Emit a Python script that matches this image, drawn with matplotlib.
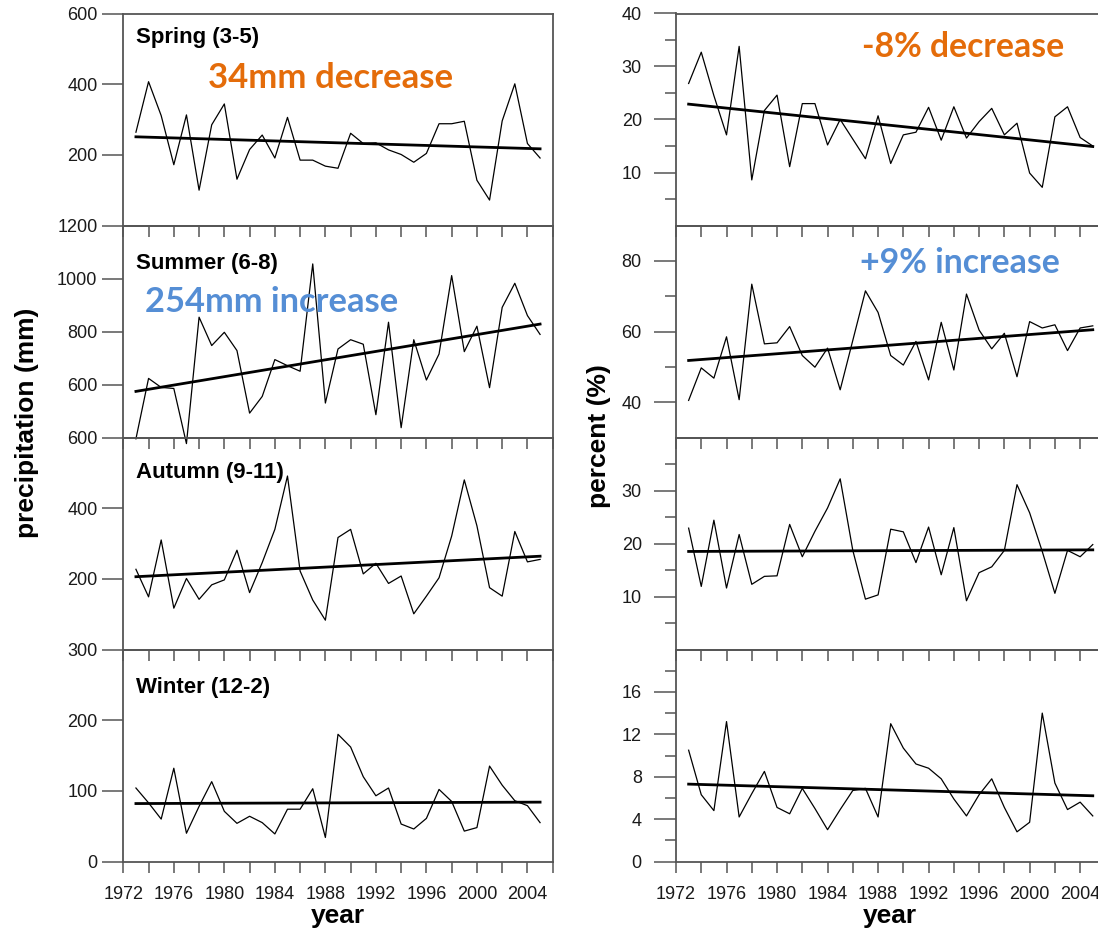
import matplotlib
matplotlib.use("Agg")
import matplotlib.pyplot as plt

plt.rcParams["font.family"] = ["Liberation Sans", "DejaVu Sans"]

# ---- data ----
years = list(range(1973, 2006))

spring_mm = [264, 407, 311, 172, 313, 100, 285, 344, 131, 215, 256, 191, 306, 185, 185, 168, 162,
             261, 232, 234, 214, 201, 179, 204, 288, 288, 295, 128, 72, 296, 401, 232, 191]
summer_mm = [395, 623, 589, 585, 377, 854, 747, 797, 728, 492, 555, 694, 671, 650, 1055, 530, 734,
             769, 752, 486, 835, 437, 769, 617, 715, 1011, 724, 820, 588, 891, 982, 860, 789]
autumn_mm = [227, 149, 310, 117, 201, 142, 183, 197, 281, 161, 246, 340, 491, 222, 140, 83, 317,
             340, 214, 244, 187, 208, 101, 151, 203, 321, 480, 350, 175, 151, 334, 248, 255]
winter_mm = [104, 83, 60, 132, 40, 78, 113, 71, 54, 64, 55, 39, 74, 74, 103, 34, 180,
             162, 120, 93, 104, 53, 46, 61, 102, 85, 43, 48, 135, 108, 86, 79, 55]

spring_pct = [26.8, 32.7, 24.5, 17.1, 33.8, 8.6, 21.7, 24.6, 11.1, 23.0, 23.0, 15.2, 20.0, 16.3, 12.6, 20.7, 11.7,
              17.1, 17.6, 22.3, 16.1, 22.4, 16.5, 19.6, 22.1, 17.1, 19.3, 9.9, 7.2, 20.5, 22.4, 16.6, 15.0]
summer_pct = [40.5, 49.7, 46.8, 58.5, 40.7, 73.4, 56.5, 56.8, 61.4, 53.2, 49.9, 55.3, 43.5, 57.5, 71.5, 65.4, 53.2,
              50.5, 57.2, 46.3, 62.6, 49.1, 70.6, 60.4, 55.1, 59.5, 47.2, 62.8, 61.0, 61.9, 54.6, 61.0, 61.6]
autumn_pct = [22.9, 11.9, 24.4, 11.6, 21.7, 12.3, 13.8, 13.9, 23.6, 17.5, 22.3, 26.7, 32.2, 18.7, 9.5, 10.3, 22.7,
              22.2, 16.4, 23.1, 14.1, 23.0, 9.2, 14.5, 15.6, 18.7, 31.1, 25.8, 18.5, 10.6, 18.7, 17.5, 19.8]
winter_pct = [10.5, 6.3, 4.8, 13.2, 4.2, 6.4, 8.5, 5.1, 4.5, 6.9, 5.0, 3.0, 4.9, 6.7, 6.9, 4.2, 13.0,
              10.7, 9.2, 8.8, 7.8, 5.9, 4.3, 6.3, 7.8, 5.1, 2.8, 3.7, 14.0, 7.4, 4.9, 5.6, 4.3]

# linear trend end points (1973, 2005)
trend_years = [1973, 2005]
spring_mm_trend = [251, 217]
summer_mm_trend = [574, 828]
autumn_mm_trend = [206, 264]
winter_mm_trend = [82, 84]
spring_pct_trend = [22.9, 14.9]
summer_pct_trend = [51.8, 60.5]
autumn_pct_trend = [18.5, 18.8]
winter_pct_trend = [7.3, 6.2]

season_titles = ["Spring (3-5)", "Summer (6-8)", "Autumn (9-11)", "Winter (12-2)"]

# ---- layout (pixels of the 1098x932 reference) ----
W, H = 1098, 932
fig = plt.figure(figsize=(W / 100, H / 100), dpi=100)

panel_tops = [13.5, 225.5, 437.5, 649.5]
panel_h = 212
ax_w = 429.4
left_x0, right_x0 = 123.3, 676.0

spine_c = "#555555"
text_c = "#1a1a1a"
orange = "#E46C0A"
blue = "#558ED5"
tick_fs = 13


def make_axes(x0, top):
    ax = fig.add_axes([x0 / W, 1 - (top + panel_h) / H, ax_w / W, panel_h / H])
    ax.patch.set_visible(False)
    for s in ax.spines.values():
        s.set_color(spine_c)
        s.set_linewidth(1.3)
    ax.set_xlim(1972, 2006)
    ax.set_xticks(range(1972, 2007, 2))
    ax.tick_params(axis="x", direction="out", length=8, width=1.1, color=spine_c,
                   labelsize=tick_fs, labelcolor=text_c, pad=9.5)
    return ax


def draw_series(ax, values, trend):
    ax.plot(years, values, color="black", lw=0.9, clip_on=False, zorder=3)
    ax.plot(trend_years, trend, color="black", lw=2.0, clip_on=False, zorder=4)


# left column: precipitation
left_series = [spring_mm, summer_mm, autumn_mm, winter_mm]
left_trends = [spring_mm_trend, summer_mm_trend, autumn_mm_trend, winter_mm_trend]
left_ylims = [(0, 600), (400, 1200), (0, 600), (0, 300)]
left_ticks = [[200, 400, 600], [600, 800, 1000, 1200], [200, 400, 600], [0, 100, 200, 300]]
title_baselines = [0.862, 0.793, 0.808, 0.796]

# right column: percent
right_series = [spring_pct, summer_pct, autumn_pct, winter_pct]
right_trends = [spring_pct_trend, summer_pct_trend, autumn_pct_trend, winter_pct_trend]
right_ylims = [(0, 40), (30, 90), (0, 40), (0, 20)]
right_major = [[10, 20, 30, 40], [40, 60, 80], [10, 20, 30], [0, 4, 8, 12, 16]]
right_minor = [[5, 15, 25, 35], [50, 70], [5, 15, 25, 35], [2, 6, 10, 14, 18]]

for i in range(4):
    bottom = i == 3
    xlabels = [str(y) if (bottom and y % 4 == 0 and y < 2006) else "" for y in range(1972, 2007, 2)]

    ax = make_axes(left_x0, panel_tops[i])
    draw_series(ax, left_series[i], left_trends[i])
    ax.set_ylim(*left_ylims[i])
    ax.set_yticks(left_ticks[i])
    ax.set_xticklabels(xlabels)
    ax.tick_params(axis="y", direction="out", length=15, width=1.1, color=spine_c,
                   labelsize=tick_fs, labelcolor=text_c, pad=3.6)
    ax.text(0.03, title_baselines[i], season_titles[i], transform=ax.transAxes,
            fontsize=16, fontweight="bold", va="baseline", ha="left", color="black", zorder=2)
    if i == 0:
        ax.text(0.197, 0.649, "34mm decrease", transform=ax.transAxes, family="Lato",
                fontsize=25, fontweight="bold", color=orange, va="baseline", ha="left")
    if i == 1:
        ax.text(0.05, 0.592, "254mm increase", transform=ax.transAxes, family="Lato",
                fontsize=24.8, fontweight="bold", color=blue, va="baseline", ha="left")

    ax = make_axes(right_x0, panel_tops[i])
    draw_series(ax, right_series[i], right_trends[i])
    ax.set_ylim(*right_ylims[i])
    ax.set_yticks(right_major[i])
    ax.set_yticks(right_minor[i], minor=True)
    ax.set_xticklabels(xlabels)
    ax.tick_params(axis="y", which="major", direction="out", length=16, width=1.1, color=spine_c,
                   labelsize=tick_fs, labelcolor=text_c, pad=8.6)
    ax.tick_params(axis="y", which="minor", direction="out", length=8, width=1.1, color=spine_c)
    ax.tick_params(axis="x", which="minor", bottom=False)
    if i == 0:
        ax.text(0.433, 0.795, "-8% decrease", transform=ax.transAxes, family="Lato",
                fontsize=24.3, fontweight="bold", color=orange, va="baseline", ha="left")
    if i == 1:
        ax.text(0.4285, 0.776, "+9% increase", transform=ax.transAxes, family="Lato",
                fontsize=24.3, fontweight="bold", color=blue, va="baseline", ha="left")

# axis titles
fig.text(27 / W, 1 - 423 / H, "precipitation (mm)", rotation=90, ha="center", va="center",
         fontsize=19, fontweight="bold", color="black")
fig.text(599 / W, 1 - 436 / H, "percent (%)", rotation=90, ha="center", va="center",
         fontsize=19, fontweight="bold", color="black")
fig.text(338 / W, 1 - 923 / H, "year", ha="center", va="baseline",
         fontsize=19, fontweight="bold", color="black")
fig.text(890 / W, 1 - 923 / H, "year", ha="center", va="baseline",
         fontsize=19, fontweight="bold", color="black")

fig.savefig("out.png", dpi=100)
plt.close(fig)
